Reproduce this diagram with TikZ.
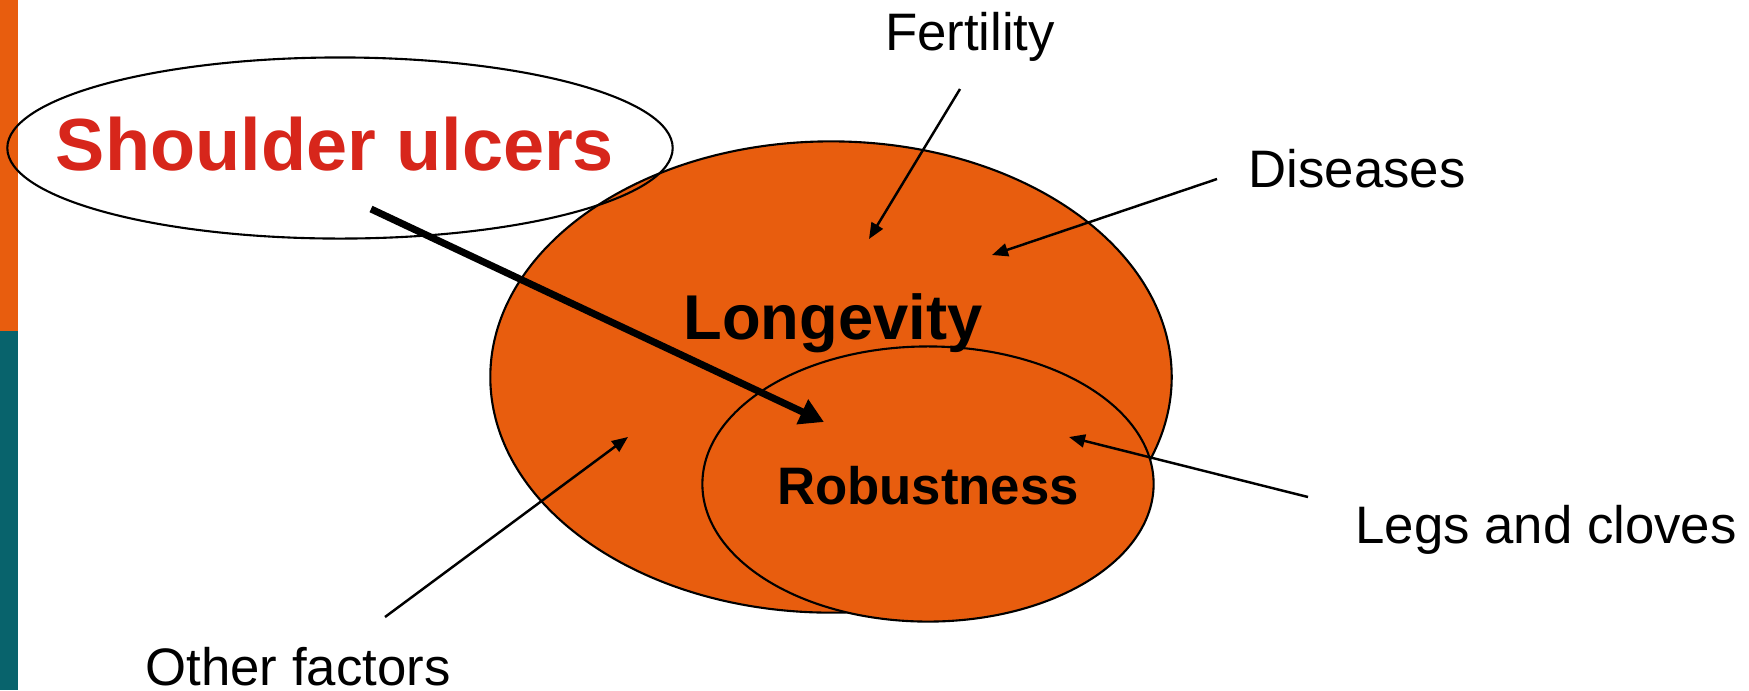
\documentclass[tikz,border=0pt]{standalone}
\usepackage{fontspec}
\setmainfont{Liberation Sans}
\usetikzlibrary{shapes.geometric,arrows.meta}
\definecolor{slideorange}{RGB}{232,93,14}
\definecolor{slideteal}{RGB}{8,99,108}
\definecolor{ulcerred}{RGB}{215,38,27}

\begin{document}
\begin{tikzpicture}[x=0.01cm, y=-0.01cm,
  blob/.style={ellipse, draw, line width=0.6pt, inner sep=0pt},
  sidetext/.style={anchor=base, inner sep=0pt, font=\fontsize{15}{18}\selectfont},
  pointer/.style={line width=0.7pt, >={Triangle[length=0.16cm,width=0.13cm]}, ->}]
\useasboundingbox (0,0) rectangle (1749,690);
\fill[slideorange] (0,0) rectangle (18,331);
\fill[slideteal] (0,331) rectangle (18,690);

\node[blob, fill=slideorange, minimum width=6.81cm, minimum height=4.71cm] (longevity) at (831,377) {};
\node[blob, fill=slideorange, minimum width=4.51cm, minimum height=2.75cm] (robust) at (928,484) {};
\node[blob, minimum width=6.65cm, minimum height=1.81cm] (ulcers) at (340,148) {};

\node[sidetext, font=\fontsize{21}{25}\selectfont\bfseries, text=ulcerred] (ulcertext) at (335,170) {Shoulder ulcers};
\node[sidetext, font=\fontsize{18}{22}\selectfont\bfseries] (longtext) at (833,339) {Longevity};
\node[sidetext, font=\fontsize{15}{18}\selectfont\bfseries] (robusttext) at (928,504) {Robustness};
\node[sidetext] (fertility) at (970,50) {Fertility};
\node[sidetext] (diseases) at (1357,187) {Diseases};
\node[sidetext] (legs) at (1546,543) {Legs and cloves};
\node[sidetext] (other) at (298,685) {Other factors};

\coordinate (ulcerfrom) at (371,209);
\coordinate (ulcerto) at (824,422);
\coordinate (fertfrom) at (960,89);
\coordinate (fertto) at (869,239);
\coordinate (disfrom) at (1217,179);
\coordinate (disto) at (992,255);
\coordinate (legsfrom) at (1308,497);
\coordinate (legsto) at (1069,437);
\coordinate (otherfrom) at (385,617);
\coordinate (otherto) at (628,437);

\draw[pointer] (fertfrom) -- (fertto);
\draw[pointer] (disfrom) -- (disto);
\draw[pointer] (legsfrom) -- (legsto);
\draw[pointer] (otherfrom) -- (otherto);
\draw[line width=2pt, >={Triangle[length=0.24cm,width=0.26cm]}, ->] (ulcerfrom) -- (ulcerto);
\end{tikzpicture}
\end{document}
